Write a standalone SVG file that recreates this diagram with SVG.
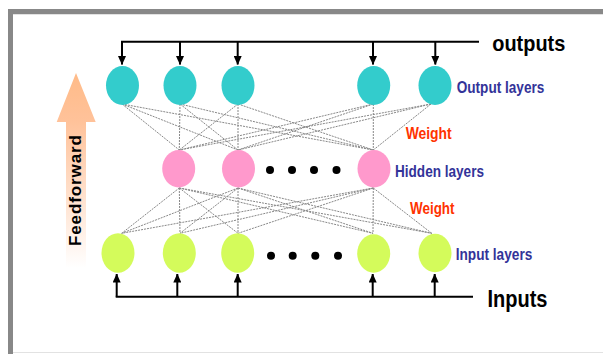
<svg xmlns="http://www.w3.org/2000/svg" width="603" height="354" viewBox="0 0 603 354">
<style>
.out{fill:#33cccc}
.hid{fill:#ff99cc}
.inp{fill:#d4fb5b}
.w{stroke:#888;stroke-width:1;stroke-dasharray:2 1;fill:none}
.ar{stroke:#000;stroke-width:2;fill:none}
.lbl{font-family:"Liberation Sans",Arial,sans-serif;font-weight:bold;fill:#333399;font-size:16px}
.wt{font-family:"Liberation Sans",Arial,sans-serif;font-weight:bold;fill:#ff3300;font-size:16px}
.big{font-family:"Liberation Sans",Arial,sans-serif;font-weight:bold;fill:#000}
.dot{fill:#000}
</style>
<defs>
<marker id="ah" markerWidth="9" markerHeight="8" refX="8.5" refY="4" orient="auto" markerUnits="userSpaceOnUse" viewBox="0 0 9 8">
<path d="M0,0 L9,4 L0,8 Z" fill="#000"/>
</marker>
<linearGradient id="ff" x1="0" y1="73" x2="0" y2="268" gradientUnits="userSpaceOnUse">
<stop offset="0" stop-color="#ffbb88"/>
<stop offset="0.25" stop-color="#ffc29a"/>
<stop offset="1" stop-color="#ffffff"/>
</linearGradient>
</defs>
<rect x="0" y="0" width="603" height="354" fill="#fff"/>
<g id="frame">
<rect x="8" y="9" width="595" height="5" fill="#888"/>
<rect x="8" y="9" width="5" height="345" fill="#888"/>
<line x1="13" y1="14.5" x2="603" y2="14.5" stroke="#e2e2e2" stroke-width="1"/>
<line x1="13" y1="352.5" x2="603" y2="352.5" stroke="#e2e2e2" stroke-width="1"/>
</g>
<g id="feedforward">
<path d="M76,73 L95.7,122 L86,122 L86,268 L66,268 L66,122 L56.7,122 Z" fill="url(#ff)"/>
<text class="big" font-size="17" transform="translate(80.5,246) rotate(-90)" textLength="111" lengthAdjust="spacing">Feedforward</text>
</g>
<g id="connectors">
<g id="weights-top">
<path class="w" d="M122,104 L179.3,150 M122,104 L238,150 M122,104 L373.3,150
M180,104 L179.3,150 M180,104 L238,150 M180,104 L373.3,150
M238,104 L179.3,150 M238,104 L238,150 M238,104 L373.3,150
M373.3,104 L179.3,150 M373.3,104 L238,150 M373.3,104 L373.3,150
M431,104 L179.3,150 M431,104 L238,150 M431,104 L373.3,150"/>
</g>
<g id="weights-bottom">
<path class="w" d="M179.3,188 L121.7,233.3 M179.3,188 L180,233.3 M179.3,188 L238,233.3 M179.3,188 L373,233.3 M179.3,188 L431.7,233.3
M238,188 L121.7,233.3 M238,188 L180,233.3 M238,188 L238,233.3 M238,188 L373,233.3 M238,188 L431.7,233.3
M373.3,188 L121.7,233.3 M373.3,188 L180,233.3 M373.3,188 L238,233.3 M373.3,188 L373,233.3 M373.3,188 L431.7,233.3"/>
</g>
<g id="output-arrows">
<path class="ar" d="M121,41.7 L479,41.7"/>
<path class="ar" marker-end="url(#ah)" d="M122,41.7 L122,64.5"/>
<path class="ar" marker-end="url(#ah)" d="M180,41.7 L180,64.5"/>
<path class="ar" marker-end="url(#ah)" d="M237.7,41.7 L237.7,64.5"/>
<path class="ar" marker-end="url(#ah)" d="M373,41.7 L373,64.5"/>
<path class="ar" marker-end="url(#ah)" d="M435.3,41.7 L435.3,64.5"/>
</g>
<g id="input-arrows">
<path class="ar" d="M115.7,296.7 L473,296.7"/>
<path class="ar" marker-end="url(#ah)" d="M116.7,296.7 L116.7,274"/>
<path class="ar" marker-end="url(#ah)" d="M177.3,296.7 L177.3,274"/>
<path class="ar" marker-end="url(#ah)" d="M237.7,296.7 L237.7,274"/>
<path class="ar" marker-end="url(#ah)" d="M372.7,296.7 L372.7,274"/>
<path class="ar" marker-end="url(#ah)" d="M434.7,296.7 L434.7,274"/>
</g>
</g>
<g id="output-1"><ellipse class="out" cx="122.5" cy="85.5" rx="16.5" ry="19.5"/></g>
<g id="output-2"><ellipse class="out" cx="180" cy="85.5" rx="16.5" ry="19.5"/></g>
<g id="output-3"><ellipse class="out" cx="238" cy="85.5" rx="16.5" ry="19.5"/></g>
<g id="output-4"><ellipse class="out" cx="373.7" cy="85.5" rx="16.5" ry="19.5"/></g>
<g id="output-5"><ellipse class="out" cx="435" cy="85.5" rx="16.5" ry="19.5"/></g>
<g id="hidden-1"><ellipse class="hid" cx="178.7" cy="168.7" rx="16.5" ry="18.7"/></g>
<g id="hidden-2"><ellipse class="hid" cx="238.5" cy="168.7" rx="16.5" ry="18.7"/></g>
<g id="hidden-3"><ellipse class="hid" cx="374" cy="168.7" rx="16.5" ry="18.7"/></g>
<g id="hidden-dots">
<circle class="dot" cx="270" cy="170" r="4"/><circle class="dot" cx="292" cy="170" r="4"/>
<circle class="dot" cx="314" cy="170" r="4"/><circle class="dot" cx="336.5" cy="170" r="4"/>
</g>
<g id="input-1"><ellipse class="inp" cx="118" cy="253" rx="16.5" ry="19.7"/></g>
<g id="input-2"><ellipse class="inp" cx="179.3" cy="253" rx="16.5" ry="19.7"/></g>
<g id="input-3"><ellipse class="inp" cx="237.7" cy="253" rx="16.5" ry="19.7"/></g>
<g id="input-4"><ellipse class="inp" cx="373.7" cy="253.5" rx="16.5" ry="19.2"/></g>
<g id="input-5"><ellipse class="inp" cx="435" cy="253" rx="16.5" ry="19.2"/></g>
<g id="input-dots">
<circle class="dot" cx="271" cy="255.7" r="4"/><circle class="dot" cx="292.7" cy="255.7" r="4"/>
<circle class="dot" cx="315.3" cy="255.7" r="4"/><circle class="dot" cx="338" cy="255.7" r="4"/>
</g>
<g id="labels">
<text class="big" font-size="22" x="492.3" y="51" textLength="73" lengthAdjust="spacingAndGlyphs">outputs</text>
<text class="big" font-size="23" x="487.5" y="306.5" textLength="60" lengthAdjust="spacingAndGlyphs">Inputs</text>
<text class="lbl" x="456.7" y="92.7" textLength="87.6" lengthAdjust="spacingAndGlyphs">Output layers</text>
<text class="wt" x="405.7" y="139" textLength="46" lengthAdjust="spacingAndGlyphs">Weight</text>
<text class="lbl" x="395" y="177.3" textLength="89" lengthAdjust="spacingAndGlyphs">Hidden layers</text>
<text class="wt" x="410" y="214" textLength="44.5" lengthAdjust="spacingAndGlyphs">Weight</text>
<text class="lbl" x="455.7" y="260" textLength="76.6" lengthAdjust="spacingAndGlyphs">Input layers</text>
</g>
</svg>
